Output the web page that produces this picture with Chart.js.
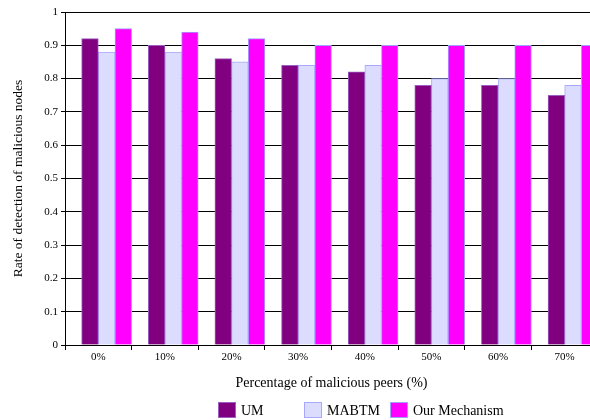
<!DOCTYPE html>
<html>
<head>
<meta charset="utf-8">
<script src="https://cdn.jsdelivr.net/npm/chart.js@4/dist/chart.umd.min.js"></script>
<style>
  html, body { margin: 0; padding: 0; overflow: hidden; background: #fff; }
  canvas { display: block; }
</style>
</head>
<body>
<canvas id="barChart" width="600" height="420"></canvas>
<script>
// data
const categories = ['0%', '10%', '20%', '30%', '40%', '50%', '60%', '70%'];
const umValues = [0.92, 0.90, 0.86, 0.84, 0.82, 0.78, 0.78, 0.75];
const mabtmValues = [0.88, 0.88, 0.85, 0.84, 0.84, 0.80, 0.80, 0.78];
const ourValues = [0.95, 0.94, 0.92, 0.90, 0.90, 0.90, 0.90, 0.90];
const gapSlot = categories.map(() => null); // empty first slot, bars sit right in each group

const serif = "'Liberation Serif', 'DejaVu Serif', serif";

// legend drawn in fixed columns, like the original
const columnLegend = {
    id: 'columnLegend',
    afterDraw(chart) {
        const ctx = chart.ctx;
        const items = chart.data.datasets.filter(d => d.label);
        ctx.save();
        ctx.font = '14px ' + serif;
        ctx.textBaseline = 'middle';
        items.forEach((d, i) => {
            const x = 218 + i * 86;
            const y = 402;
            ctx.fillStyle = d.backgroundColor;
            ctx.fillRect(x, y, 18, 16);
            ctx.strokeStyle = d.borderColor;
            ctx.lineWidth = 1;
            ctx.strokeRect(x + 0.5, y + 0.5, 17, 15);
            ctx.fillStyle = '#000';
            ctx.fillText(d.label, x + 23, y + 9);
        });
        ctx.restore();
    }
};

document.addEventListener('DOMContentLoaded', function () {
    const barCtx = document.getElementById('barChart').getContext('2d');

    const barChart = new Chart(barCtx, {
        type: 'bar',
        data: {
            labels: categories,
            datasets: [{
                data: gapSlot,
                backgroundColor: 'rgba(0,0,0,0)'
            }, {
                label: 'UM',
                data: umValues,
                backgroundColor: '#800080',
                borderColor: '#9a5fc0',
                borderWidth: 1
            }, {
                label: 'MABTM',
                data: mabtmValues,
                backgroundColor: '#dcdcff',
                borderColor: '#a8a8ff',
                borderWidth: 1
            }, {
                label: 'Our Mechanism',
                data: ourValues,
                backgroundColor: '#ff00ff',
                borderColor: '#a0a0ff',
                borderWidth: 1
            }]
        },
        options: {
            responsive: false,
            animation: false,
            categoryPercentage: 1,
            barPercentage: 1,
            layout: {
                padding: { top: 12, right: 2, bottom: 15, left: 0 }
            },
            plugins: {
                legend: { display: false },
                tooltip: { enabled: false }
            },
            scales: {
                x: {
                    afterFit: s => { s.height = 60; },
                    grid: {
                        drawOnChartArea: false,
                        drawTicks: true,
                        tickLength: 5,
                        color: '#000'
                    },
                    border: { color: '#000' },
                    ticks: {
                        color: '#000',
                        padding: 1,
                        font: { family: serif, size: 11 }
                    },
                    title: {
                        display: true,
                        text: 'Percentage of malicious peers (%)',
                        color: '#000',
                        font: { family: serif, size: 14 },
                        padding: { top: 0, bottom: 13 }
                    }
                },
                y: {
                    min: 0,
                    max: 1,
                    afterFit: s => { s.width = 65; },
                    grid: {
                        color: '#000',
                        tickLength: 4
                    },
                    border: { color: '#000' },
                    ticks: {
                        stepSize: 0.1,
                        color: '#000',
                        padding: 3,
                        font: { family: serif, size: 11 },
                        callback: v => (v === 0 || v === 1) ? String(v) : v.toFixed(1)
                    },
                    title: {
                        display: true,
                        text: 'Rate of detection of malicious nodes',
                        color: '#000',
                        font: { family: serif, size: 13.5 },
                        padding: { top: 10, bottom: 0 }
                    }
                }
            }
        },
        plugins: [columnLegend]
    });
});
</script>
</body>
</html>
